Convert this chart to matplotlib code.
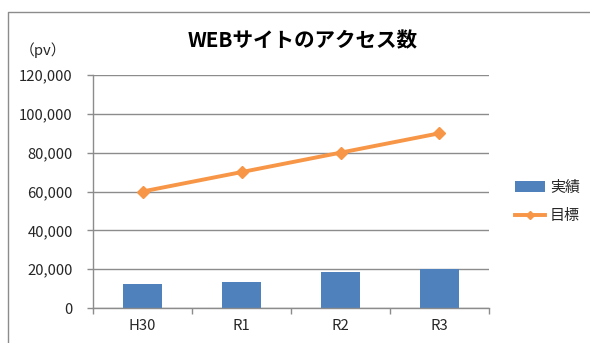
import matplotlib
matplotlib.use("Agg")
import matplotlib.pyplot as plt
from matplotlib.lines import Line2D
from matplotlib.ticker import FuncFormatter, FixedLocator

plt.rcParams['font.family'] = ['Noto Sans CJK JP', 'DejaVu Sans']

categories = ["H30", "R1", "R2", "R3"]
actual = [12500, 13400, 18400, 20000]
target = [60000, 70000, 80000, 90000]
title = "WEBサイトのアクセス数"
unit_label = "（pv）"
series_names = ["実績", "目標"]

bar_color = "#4F81BD"
line_color = "#F79646"
grid_color = "#8C8C8C"
text_color = "#262626"

W, H = 590, 343
fig = plt.figure(figsize=(W / 100, H / 100), dpi=100)

# chart frame (left and top edges visible)
fig.add_artist(Line2D([8 / W, 8 / W, 1.0], [0.0, 1 - 12 / H, 1 - 12 / H],
                      transform=fig.transFigure, color="#8C8C8C", lw=1.0))

ax = fig.add_axes([93 / W, 1 - 308 / H, (489 - 93) / W, (308 - 75) / H])
x = list(range(len(categories)))

bars = ax.bar(x, actual, width=0.4, color=bar_color, zorder=2)
line, = ax.plot(x, target, color=line_color, lw=2.8, marker="D", markersize=6.3,
                zorder=3)

ax.set_xlim(-0.5, len(categories) - 0.5)
ax.set_ylim(0, 120000)
ax.set_yticks(range(0, 120001, 20000))
ax.yaxis.set_major_formatter(FuncFormatter(lambda v, p: f"{int(v):,}"))
ax.grid(axis="y", color=grid_color, lw=1.0, zorder=0)

ax.xaxis.set_major_locator(FixedLocator([i - 0.5 for i in range(len(categories) + 1)]))
ax.xaxis.set_minor_locator(FixedLocator(x))
ax.set_xticklabels([], minor=False)
ax.set_xticklabels(categories, minor=True)
ax.tick_params(axis="x", which="major", length=4, color=grid_color, width=1)
ax.tick_params(axis="x", which="minor", length=0, pad=8, labelsize=10.7, labelcolor=text_color)
ax.tick_params(axis="y", length=4, color=grid_color, width=1, pad=10.5,
               labelsize=10.7, labelcolor=text_color)

for s in ["top", "right"]:
    ax.spines[s].set_visible(False)
for s in ["left", "bottom"]:
    ax.spines[s].set_color(grid_color)
    ax.spines[s].set_linewidth(1.0)

fig.text(303 / W, 1 - 41 / H, title, ha="center", va="center",
         fontsize=14.8, fontweight="bold", color="#000000")
fig.text(43 / W, 1 - 50 / H, unit_label, ha="center", va="center",
         fontsize=10.7, color=text_color)

leg = fig.legend([bars, line], series_names, loc="center left",
                 bbox_to_anchor=(515 / W, 1 - 202 / H), borderpad=0, borderaxespad=0,
                 frameon=False, fontsize=10.8, handlelength=2.0,
                 handletextpad=0.33, labelspacing=0.95, labelcolor=text_color)
leg.legend_handles[1].set_markersize(4.5)

fig.savefig("out.png", dpi=100, facecolor="white")
